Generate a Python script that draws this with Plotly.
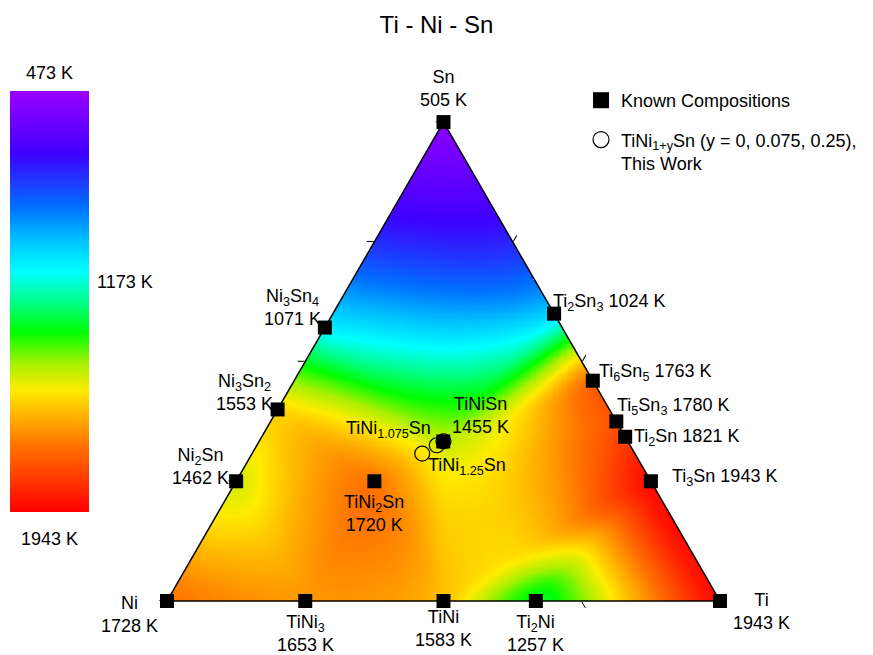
import numpy as np
import plotly.graph_objects as go

# ---------------------------------------------------------------
# Known compositions (atomic fractions of Sn and Ti; Ni = rest)
# and their melting temperatures in K
# ---------------------------------------------------------------
names = ["Sn", "Ni", "Ti",
         "Ni2Sn", "Ni3Sn2", "Ni3Sn4",
         "Ti2Sn3", "Ti6Sn5", "Ti5Sn3", "Ti2Sn", "Ti3Sn",
         "TiNi3", "TiNi", "Ti2Ni",
         "TiNiSn", "TiNi2Sn"]
x_sn = [1.0, 0.0, 0.0,
        0.25, 0.40, 0.571,
        0.60, 0.46, 0.375, 0.343, 0.25,
        0.0, 0.0, 0.0,
        0.333, 0.25]
x_ti = [0.0, 0.0, 1.0,
        0.0, 0.0, 0.0,
        0.40, 0.54, 0.625, 0.657, 0.75,
        0.25, 0.50, 0.667,
        0.333, 0.25]
t_melt = [505, 1728, 1943,
          1462, 1553, 1071,
          1024, 1763, 1780, 1821, 1943,
          1653, 1583, 1257,
          1455, 1720]

# half-Heusler series TiNi(1+y)Sn studied here
y_excess = [0.0, 0.075, 0.25]
series_labels = ["", "TiNi<sub>1.075</sub>Sn", "TiNi<sub>1.25</sub>Sn"]

# colour-bar ticks (K)
cbar_ticks = [473, 1173, 1943]
t_min, t_max = cbar_ticks[0], cbar_ticks[-1]

# ---------------------------------------------------------------
x_sn = np.array(x_sn)
x_ti = np.array(x_ti)
x_ni = 1.0 - x_sn - x_ti
t_melt = np.array(t_melt, dtype=float)

y_excess = np.array(y_excess)
s_ti = 1.0 / (3.0 + y_excess)
s_sn = 1.0 / (3.0 + y_excess)
s_ni = (1.0 + y_excess) / (3.0 + y_excess)

SQ3 = np.sqrt(3.0)


def to_xy(sn, ti):
    """Ternary (Sn, Ti) fractions -> Cartesian, Ni corner at origin."""
    sn = np.asarray(sn, float)
    ti = np.asarray(ti, float)
    return ti + sn / 2.0, sn * SQ3 / 2.0


px_, py_ = to_xy(x_sn, x_ti)


# ---- Delaunay triangulation (Bowyer-Watson) ----
def delaunay(xs, ys):
    pts = list(zip(map(float, xs), map(float, ys)))
    n = len(pts)
    allp = pts + [(-10.0, -10.0), (11.0, -10.0), (0.5, 12.0)]

    def circum(t):
        (ax, ay), (bx, by), (cx, cy) = (allp[k] for k in t)
        d = 2 * (ax * (by - cy) + bx * (cy - ay) + cx * (ay - by))
        if abs(d) < 1e-14:
            return None
        a2, b2, c2 = ax * ax + ay * ay, bx * bx + by * by, cx * cx + cy * cy
        ux = (a2 * (by - cy) + b2 * (cy - ay) + c2 * (ay - by)) / d
        uy = (a2 * (cx - bx) + b2 * (ax - cx) + c2 * (bx - ax)) / d
        return ux, uy, (ax - ux) ** 2 + (ay - uy) ** 2

    tris = {(n, n + 1, n + 2): circum((n, n + 1, n + 2))}
    for i, (qx, qy) in enumerate(pts):
        bad = [t for t, (ux, uy, r2) in tris.items()
               if (qx - ux) ** 2 + (qy - uy) ** 2 < r2 - 1e-12]
        edges = {}
        for t in bad:
            for e in ((t[0], t[1]), (t[1], t[2]), (t[2], t[0])):
                key = tuple(sorted(e))
                edges[key] = edges.get(key, 0) + 1
            del tris[t]
        for (a, b), cnt in edges.items():
            if cnt == 1:
                cc = circum((a, b, i))
                if cc is not None:
                    tris[(a, b, i)] = cc
    return [t for t in tris if max(t) < n]


nx, ny = 480, 416
gx = np.linspace(0, 1, nx)
gy = np.linspace(0, SQ3 / 2, ny)
GX, GY = np.meshgrid(gx, gy)

# (1) piecewise-linear surface on a mesh built in the (Ti, Sn) plane
triangles = delaunay(x_ti, x_sn)
Zlin = np.full(GX.shape, np.nan)
for (i, j, k) in triangles:
    x1, y1, x2, y2, x3, y3 = px_[i], py_[i], px_[j], py_[j], px_[k], py_[k]
    det = (y2 - y3) * (x1 - x3) + (x3 - x2) * (y1 - y3)
    if abs(det) < 1e-12:
        continue
    l1 = ((y2 - y3) * (GX - x3) + (x3 - x2) * (GY - y3)) / det
    l2 = ((y3 - y1) * (GX - x3) + (x1 - x3) * (GY - y3)) / det
    l3 = 1 - l1 - l2
    m = (l1 >= -1e-9) & (l2 >= -1e-9) & (l3 >= -1e-9)
    Zlin[m] = l1[m] * t_melt[i] + l2[m] * t_melt[j] + l3[m] * t_melt[k]


# (2) thin-plate spline through the same points
def tps(r):
    with np.errstate(divide="ignore", invalid="ignore"):
        v = r * r * np.log(r)
    return np.nan_to_num(v)


n = len(px_)
D = np.hypot(px_[:, None] - px_[None, :], py_[:, None] - py_[None, :])
P = np.column_stack([np.ones(n), px_, py_])
A = np.zeros((n + 3, n + 3))
A[:n, :n] = tps(D)
A[:n, n:] = P
A[n:, :n] = P.T
coef = np.linalg.solve(A, np.concatenate([t_melt, np.zeros(3)]))
w, c = coef[:n], coef[n:]
R = np.hypot(GX[..., None] - px_, GY[..., None] - py_)
Ztps = tps(R) @ w + c[0] + c[1] * GX + c[2] * GY

# blend the two interpolants
Zmix = np.where(np.isfinite(Zlin), 0.5 * Zlin + 0.5 * Ztps, np.nan)


# Gaussian smoothing (normalised, so the borders keep their level)
def smooth(Z, sigma):
    r = int(3 * sigma)
    ker = np.exp(-0.5 * (np.arange(-r, r + 1) / sigma) ** 2)
    ker /= ker.sum()
    wt = np.isfinite(Z).astype(float)
    val = np.where(wt > 0, Z, 0.0)

    def conv(M):
        M = np.apply_along_axis(lambda v: np.convolve(v, ker, mode="same"), 0, M)
        return np.apply_along_axis(lambda v: np.convolve(v, ker, mode="same"), 1, M)

    return conv(val) / np.maximum(conv(wt), 1e-12)


Z = smooth(Zmix, 6.0)
Z = np.clip(Z, t_min, t_max)
inside = (GY <= SQ3 * GX + 1e-9) & (GY <= SQ3 * (1 - GX) + 1e-9)
Z = np.where(inside, Z, np.nan)

rainbow = [
    [0.00, "rgb(155,0,255)"],
    [0.15, "rgb(62,0,255)"],
    [0.275, "rgb(0,110,255)"],
    [0.35, "rgb(0,190,255)"],
    [0.43, "rgb(0,255,255)"],
    [0.50, "rgb(0,255,140)"],
    [0.575, "rgb(0,255,0)"],
    [0.65, "rgb(170,240,0)"],
    [0.713, "rgb(255,235,0)"],
    [0.77, "rgb(255,180,0)"],
    [0.85, "rgb(255,110,0)"],
    [1.00, "rgb(255,0,0)"],
]

FONT = "Arial, 'Liberation Sans', sans-serif"
W, H = 873, 655
# triangle placement on the page (pixels)
tri_left, tri_right, tri_bottom = 167, 720, 601
tri_h = (tri_right - tri_left) * SQ3 / 2
dom_x = [tri_left / W, tri_right / W]
dom_y = [(H - tri_bottom) / H, (H - tri_bottom + tri_h) / H]

fig = go.Figure()

# interpolated melting-temperature map
fig.add_trace(go.Heatmap(
    x=gx, y=gy, z=Z, colorscale=rainbow, zmin=t_min, zmax=t_max,
    showscale=False, hoverinfo="skip", xaxis="x", yaxis="y"))

# vertical colour bar (cold on top)
bar_vals = np.linspace(t_min, t_max, 300)
fig.add_trace(go.Heatmap(
    x=[0], y=bar_vals, z=bar_vals[:, None], colorscale=rainbow,
    zmin=t_min, zmax=t_max, showscale=False, hoverinfo="skip",
    xaxis="x2", yaxis="y2"))

# this-work compositions (drawn first, squares on top)
fig.add_trace(go.Scatterternary(
    a=s_sn, b=s_ni, c=s_ti, mode="markers", cliponaxis=False,
    marker=dict(symbol="circle-open", size=15, color="black",
                line=dict(width=1.2, color="black")),
    showlegend=False, hoverinfo="skip"))

fig.add_trace(go.Scatterternary(
    a=x_sn, b=x_ni, c=x_ti, mode="markers", cliponaxis=False,
    marker=dict(symbol="square", size=14, color="black"),
    showlegend=False, text=names,
    hovertemplate="%{text}<extra></extra>"))

# legend entries
fig.add_trace(go.Scatterternary(
    a=[None], b=[None], c=[None], mode="markers",
    marker=dict(symbol="square", size=16, color="black"),
    name="Known Compositions", legendgroup="known", legendrank=1))
fig.add_trace(go.Scatterternary(
    a=[None], b=[None], c=[None], mode="markers",
    marker=dict(symbol="circle-open", size=16, color="black",
                line=dict(width=1.2, color="black")),
    name="TiNi<sub>1+y</sub>Sn (y = 0, 0.075, 0.25),<br>This Work",
    legendgroup="work", legendrank=2))

# label layout: (text, dx, dy, anchor) offsets in px from the marker
label_fmt = {
    "Sn": ("Sn<br>{} K", 0, -34, "center"),
    "Ni": ("Ni<br>{} K", -38, 14, "center"),
    "Ti": ("Ti<br>{} K", 41, 11, "center"),
    "Ni2Sn": ("Ni<sub>2</sub>Sn<br>{} K", -36, -15, "center"),
    "Ni3Sn2": ("Ni<sub>3</sub>Sn<sub>2</sub><br>{} K", -33, -17, "center"),
    "Ni3Sn4": ("Ni<sub>3</sub>Sn<sub>4</sub><br>{} K", -32, -20, "center"),
    "Ti2Sn3": ("Ti<sub>2</sub>Sn<sub>3</sub> {} K", -3, -11, "left"),
    "Ti6Sn5": ("Ti<sub>6</sub>Sn<sub>5</sub> {} K", 4, -8, "left"),
    "Ti5Sn3": ("Ti<sub>5</sub>Sn<sub>3</sub> {} K", -1, -15, "left"),
    "Ti2Sn": ("Ti<sub>2</sub>Sn {} K", 7, 1, "left"),
    "Ti3Sn": ("Ti<sub>3</sub>Sn {} K", 19, -4, "left"),
    "TiNi3": ("TiNi<sub>3</sub><br>{} K", 0, 33, "center"),
    "TiNi": ("TiNi<br>{} K", 0, 28, "center"),
    "Ti2Ni": ("Ti<sub>2</sub>Ni<br>{} K", 0, 33, "center"),
    "TiNiSn": ("TiNiSn<br>{} K", 37, -26, "center"),
    "TiNi2Sn": ("TiNi<sub>2</sub>Sn<br>{} K", 0, 32, "center"),
}

annotations = []
for nm, xx, yy, tt in zip(names, px_, py_, t_melt):
    fmt, dx, dy, anc = label_fmt[nm]
    annotations.append(dict(
        x=xx, y=yy, xref="x", yref="y", text=fmt.format(int(tt)),
        showarrow=False, xanchor=anc, yanchor="middle", align="center",
        xshift=dx, yshift=-dy, font=dict(size=18, color="black")))

sx, sy = to_xy(s_sn, s_ti)
series_off = [None, (-4, -16, "right"), (4, 13, "left")]
for lab, xx, yy, off in zip(series_labels, sx, sy, series_off):
    if not lab:
        continue
    dx, dy, anc = off
    annotations.append(dict(
        x=xx, y=yy, xref="x", yref="y", text=lab, showarrow=False,
        xanchor=anc, yanchor="middle", xshift=dx, yshift=-dy,
        font=dict(size=18, color="black")))

# colour-bar labels
annotations += [
    dict(x=0, y=cbar_ticks[0], xref="x2", yref="y2", text=f"{cbar_ticks[0]} K",
         showarrow=False, xanchor="center", yanchor="bottom", yshift=6,
         font=dict(size=18)),
    dict(x=0, y=cbar_ticks[-1], xref="x2", yref="y2", text=f"{cbar_ticks[-1]} K",
         showarrow=False, xanchor="center", yanchor="top", yshift=-15,
         font=dict(size=18)),
    dict(x=0.5, y=cbar_ticks[1], xref="x2", yref="y2", text=f"{cbar_ticks[1]} K",
         showarrow=False, xanchor="left", yanchor="middle", xshift=6, yshift=9,
         font=dict(size=18)),
]

tern_axis = dict(showticklabels=False, showgrid=False, ticks="outside",
                 ticklen=7, tickwidth=1, tickcolor="black",
                 tickvals=[0, 0.25, 0.5, 0.75, 1.0],
                 linecolor="black", linewidth=1.5, title=dict(text=""),
                 min=0)

fig.update_layout(
    width=W, height=H,
    margin=dict(l=0, r=0, t=0, b=0),
    paper_bgcolor="white", plot_bgcolor="rgba(0,0,0,0)",
    font=dict(family=FONT, size=18, color="black"),
    title=dict(text="Ti - Ni - Sn", x=0.5, xanchor="center",
               y=1 - 25 / H, yanchor="middle",
               font=dict(size=24, family=FONT, color="black")),
    ternary=dict(domain=dict(x=dom_x, y=dom_y), sum=1,
                 bgcolor="rgba(0,0,0,0)",
                 aaxis=tern_axis, baxis=tern_axis, caxis=tern_axis),
    xaxis=dict(domain=dom_x, range=[0, 1], visible=False, fixedrange=True),
    yaxis=dict(domain=dom_y, range=[0, SQ3 / 2], visible=False,
               fixedrange=True),
    xaxis2=dict(domain=[10 / W, 89 / W], range=[-0.5, 0.5], visible=False,
                anchor="y2", fixedrange=True),
    yaxis2=dict(domain=[(H - 512) / H, (H - 91) / H],
                range=[t_max, t_min], visible=False, anchor="x2",
                fixedrange=True),
    legend=dict(x=581 / W, y=1 - 82 / H, xanchor="left", yanchor="top",
                bgcolor="rgba(0,0,0,0)", font=dict(size=18),
                valign="top", itemsizing="trace", tracegroupgap=13),
    showlegend=True,
    annotations=annotations,
)

fig.write_html("out.html")
